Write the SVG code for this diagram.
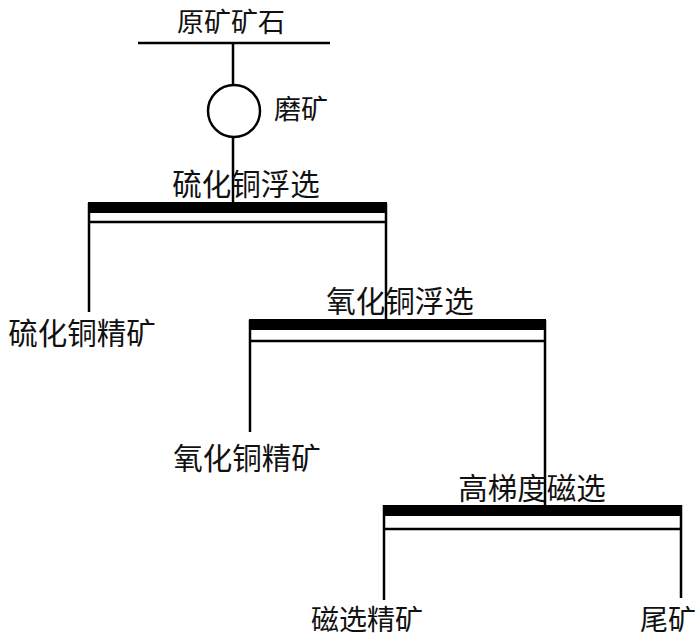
<svg xmlns="http://www.w3.org/2000/svg" width="700" height="641" viewBox="0 0 700 641">
<style>
.ln{stroke:#000;stroke-width:2.5;fill:none}
.bar{fill:#000}
text{font-family:"Noto Sans CJK SC","Noto Sans",sans-serif;font-size:29.5px;fill:#111;text-anchor:middle;dominant-baseline:central}
.sm{font-size:27px}
.bt{font-size:28px}
</style>
<rect width="700" height="641" fill="#fff"/>
<g id="connectors">
<line class="ln" x1="138" y1="43" x2="330" y2="43"/>
<line class="ln" x1="233" y1="43" x2="233" y2="85"/>
<line class="ln" x1="233" y1="137" x2="233" y2="203"/>
<line class="ln" x1="89" y1="203" x2="89" y2="312"/>
<line class="ln" x1="386" y1="203" x2="386" y2="320"/>
<line class="ln" x1="250" y1="320" x2="250" y2="432"/>
<line class="ln" x1="545" y1="320" x2="545" y2="505"/>
<line class="ln" x1="384" y1="505" x2="384" y2="600"/>
<line class="ln" x1="681" y1="505" x2="681" y2="598"/>
</g>
<g id="ore"><text class="sm" x="231" y="20">原矿矿石</text></g>
<g id="grinding">
<circle class="ln" cx="234" cy="111" r="26"/>
<text class="sm" x="301" y="107">磨矿</text>
</g>
<g id="sulfide-flotation">
<text x="246" y="182" fill="#333">硫化铜浮选</text>
<rect class="bar" x="88" y="202" width="299" height="11"/>
<line class="ln" x1="89" y1="222" x2="386" y2="222" stroke-width="2"/>
</g>
<g id="sulfide-concentrate"><text x="82" y="331">硫化铜精矿</text></g>
<g id="oxide-flotation">
<text x="400" y="299">氧化铜浮选</text>
<rect class="bar" x="249" y="319" width="297" height="11"/>
<line class="ln" x1="250" y1="341" x2="545" y2="341" stroke-width="2"/>
</g>
<g id="oxide-concentrate"><text x="247" y="456">氧化铜精矿</text></g>
<g id="hgms">
<text x="532" y="486">高梯度磁选</text>
<rect class="bar" x="383" y="505" width="299" height="11"/>
<line class="ln" x1="384" y1="529" x2="681" y2="529" stroke-width="2"/>
</g>
<g id="magnetic-concentrate"><text class="bt" x="367" y="618">磁选精矿</text></g>
<g id="tailings"><text class="bt" x="668" y="618">尾矿</text></g>
</svg>
